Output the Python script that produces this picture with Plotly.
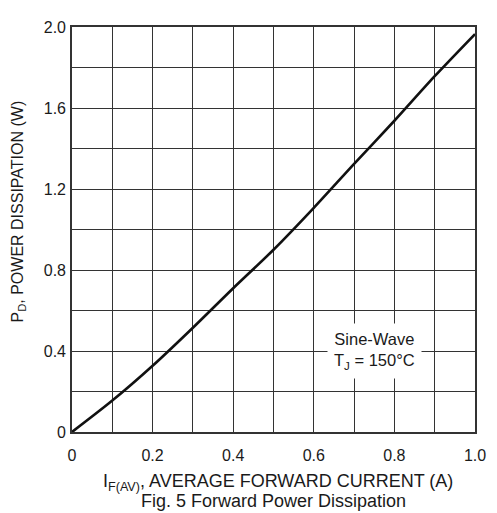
import plotly.graph_objects as go

# Data
current_a = [0.0, 0.1, 0.2, 0.3, 0.4, 0.5, 0.6, 0.7, 0.8, 0.9, 1.0]
power_w = [0.0, 0.155, 0.327, 0.515, 0.71, 0.9, 1.107, 1.324, 1.537, 1.757, 1.965]

x_tickvals = [0.0, 0.1, 0.2, 0.3, 0.4, 0.5, 0.6, 0.7, 0.8, 0.9, 1.0]
x_ticktext = ["0", "", "0.2", "", "0.4", "", "0.6", "", "0.8", "", "1.0"]
y_tickvals = [0.0, 0.2, 0.4, 0.6, 0.8, 1.0, 1.2, 1.4, 1.6, 1.8, 2.0]
y_ticktext = ["0", "", "0.4", "", "0.8", "", "1.2", "", "1.6", "", "2.0"]

FONT = "Arial, 'Liberation Sans', sans-serif"
GRID = "#333333"
TXT = "#1a1a1a"

fig = go.Figure()
fig.add_trace(go.Scatter(x=current_a, y=power_w, mode="lines",
                         line=dict(color="#111111", width=2.6, shape="spline", smoothing=0.8),
                         showlegend=False, hoverinfo="skip"))

# page body has an 8px margin, so the figure is sized/margined to compensate
fig.update_layout(
    width=489, height=505,
    margin=dict(l=64, r=16, t=11, b=81),
    paper_bgcolor="white", plot_bgcolor="white",
    font=dict(family=FONT, size=16, color=TXT),
    xaxis=dict(range=[0, 1.0], tickvals=x_tickvals, ticktext=x_ticktext,
               showgrid=True, gridcolor=GRID, gridwidth=1.4,
               showline=True, linecolor=GRID, linewidth=1.6, mirror=True,
               zeroline=False, ticks="", ticklabelstandoff=8,
               tickfont=dict(size=16, color=TXT)),
    yaxis=dict(range=[0, 2.0], tickvals=y_tickvals, ticktext=y_ticktext,
               showgrid=True, gridcolor=GRID, gridwidth=1.4,
               showline=True, linecolor=GRID, linewidth=1.6, mirror=True,
               zeroline=False, ticks="", ticklabelstandoff=1,
               tickfont=dict(size=16, color=TXT)),
)

fig.add_annotation(text="I<sub>F(AV)</sub>, AVERAGE FORWARD CURRENT (A)",
                   xref="paper", yref="paper", x=0.512, y=-0.125,
                   xanchor="center", yanchor="middle", showarrow=False,
                   font=dict(size=18, color=TXT))
fig.add_annotation(text="Fig. 5 Forward Power Dissipation",
                   xref="paper", yref="paper", x=0.50, y=-0.170,
                   xanchor="center", yanchor="middle", showarrow=False,
                   font=dict(size=18, color=TXT))
fig.add_annotation(text="P<sub>D</sub>, POWER DISSIPATION (W)",
                   xref="paper", yref="paper", x=-0.132, y=0.544,
                   xanchor="center", yanchor="middle", textangle=-90,
                   showarrow=False, font=dict(size=16, color=TXT))
fig.add_annotation(text="Sine-Wave<br>T<sub>J</sub> = 150°C",
                   xref="x", yref="y", x=0.75, y=0.40,
                   xanchor="center", yanchor="middle", showarrow=False,
                   bgcolor="white", borderpad=6,
                   font=dict(size=16.5, color=TXT))

fig.write_html("out.html")
